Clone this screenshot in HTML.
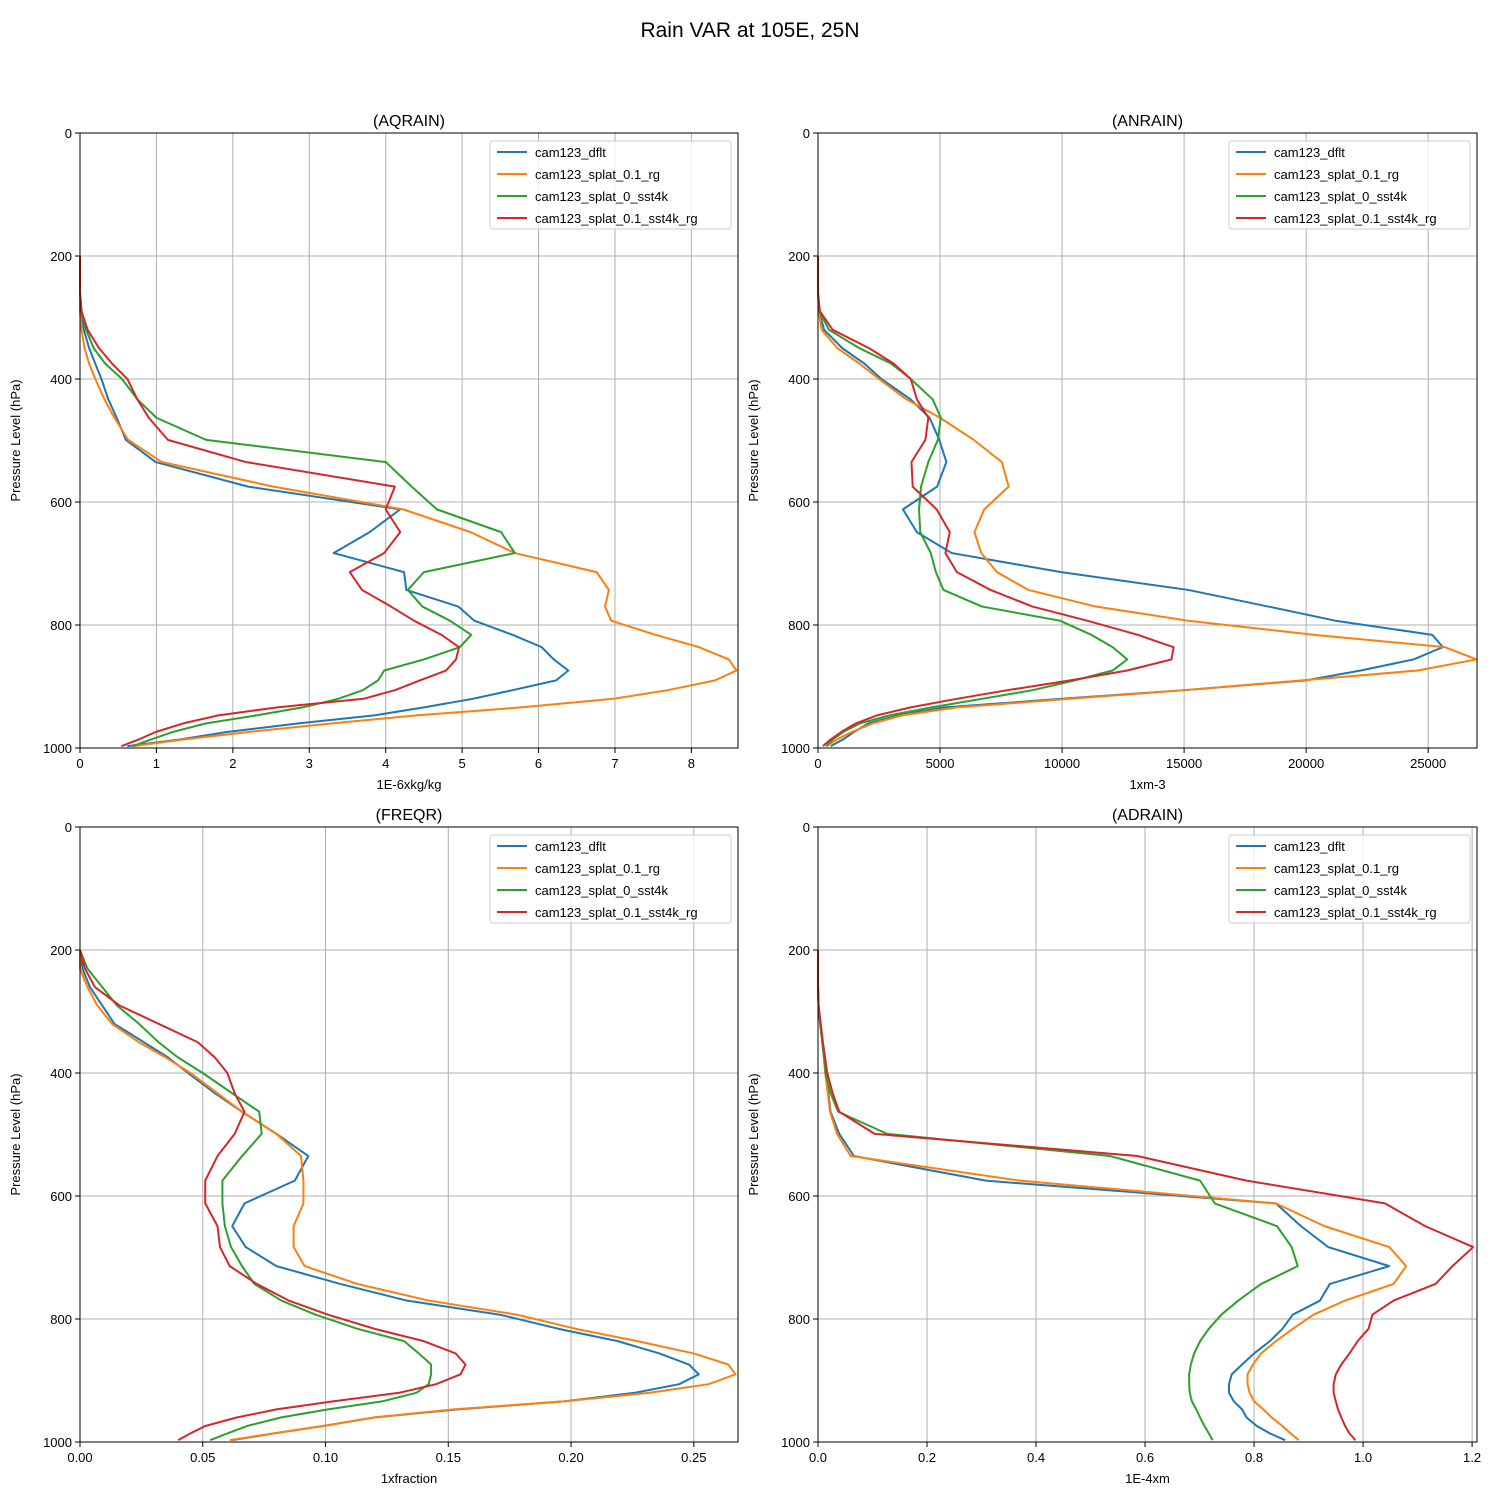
<!DOCTYPE html>
<html><head><meta charset="utf-8"><style>
body{margin:0;background:#fff}
svg{display:block;font-family:"Liberation Sans","DejaVu Sans",sans-serif}
</style></head><body>
<svg id="fig" width="1500" height="1500" viewBox="0 0 1500 1500">
<rect width="1500" height="1500" fill="#fff"/>
<text x="750" y="37" font-size="21" text-anchor="middle">Rain VAR at 105E, 25N</text>
</svg>
<script>
const levels=[200,230,260,290,320,350,375,400,433,463,499,535,575,612,649,683,714,743,770,793,816,836,856,874,890,906,920,934,947,960,974,986,997];
const seriesNames=["cam123_dflt","cam123_splat_0.1_rg","cam123_splat_0_sst4k","cam123_splat_0.1_sst4k_rg"];
const aqDflt=[0,0,0,0.02,0.05,0.12,0.2,0.28,0.37,0.48,0.6,0.99,2.2,4.19,3.79,3.32,4.24,4.27,4.95,5.16,5.66,6.04,6.2,6.39,6.23,5.66,5.14,4.5,3.85,2.86,1.92,1.32,0.62];
const aqRg=[0,0,0,0,0.02,0.06,0.12,0.2,0.32,0.45,0.63,1.07,2.53,4.23,5.11,5.69,6.76,6.92,6.87,6.95,7.53,8.1,8.49,8.59,8.31,7.69,6.98,5.77,4.4,3.3,2.2,1.37,0.69];
const aqSst=[0,0,0,0.02,0.08,0.18,0.33,0.55,0.75,1.0,1.65,4.0,4.34,4.67,5.51,5.69,4.5,4.29,4.48,4.84,5.12,4.97,4.5,3.98,3.9,3.7,3.38,2.91,2.31,1.65,1.21,0.93,0.69];
const aqSstRg=[0,0,0,0.02,0.1,0.25,0.42,0.62,0.75,0.9,1.15,2.17,4.12,4.0,4.19,3.98,3.53,3.69,4.07,4.37,4.73,4.96,4.92,4.79,4.45,4.12,3.71,2.58,1.81,1.35,0.99,0.77,0.54];
const anDflt=[0,0,0,50,250,1000,1900,2600,3790,4570,4970,5260,4880,3480,4050,5480,9960,15170,18450,21200,25170,25600,24400,22240,20000,15000,10000,5170,3280,2070,1470,1030,520];
const anRg=[0,0,0,30,150,800,1700,2500,3620,5000,6380,7530,7810,6810,6410,6690,7330,8620,11380,15170,20340,25690,26980,24570,19830,15000,10340,5690,3450,2240,1380,780,340];
const anSst=[0,0,0,60,450,1700,3000,3800,4700,5030,4910,4520,4220,4140,4190,4620,4830,5140,6720,9910,11200,12070,12670,12070,10520,8790,6720,4650,2930,1720,1030,600,340];
const anSstRg=[0,0,0,80,600,2100,3100,3800,4050,4520,4400,3830,3880,4860,5400,5220,5690,7070,8790,11030,13100,14570,14480,12670,10340,7760,5690,3790,2410,1550,950,520,200];
const frDflt=[0,0.001,0.004,0.009,0.014,0.026,0.036,0.044,0.055,0.066,0.080,0.093,0.0875,0.067,0.062,0.0675,0.080,0.106,0.133,0.171,0.195,0.219,0.236,0.248,0.252,0.244,0.226,0.197,0.154,0.12,0.099,0.079,0.062];
const frRg=[0,0,0.003,0.007,0.013,0.024,0.035,0.045,0.056,0.066,0.08,0.09,0.091,0.091,0.087,0.087,0.0915,0.113,0.142,0.178,0.202,0.227,0.25,0.264,0.267,0.256,0.232,0.197,0.152,0.12,0.099,0.079,0.061];
const frSst=[0,0.003,0.009,0.015,0.024,0.032,0.040,0.050,0.062,0.073,0.074,0.066,0.058,0.058,0.059,0.0615,0.066,0.071,0.082,0.096,0.113,0.132,0.138,0.143,0.143,0.142,0.137,0.123,0.101,0.082,0.068,0.06,0.053];
const frSstRg=[0,0.002,0.006,0.016,0.032,0.048,0.055,0.06,0.063,0.067,0.063,0.056,0.051,0.051,0.056,0.057,0.061,0.072,0.085,0.101,0.12,0.14,0.153,0.157,0.155,0.145,0.13,0.103,0.08,0.064,0.051,0.045,0.04];
const adDflt=[0,0,0,0.001,0.004,0.008,0.011,0.014,0.019,0.023,0.039,0.066,0.308,0.84,0.886,0.936,1.048,0.939,0.921,0.871,0.852,0.829,0.8,0.778,0.759,0.754,0.754,0.763,0.778,0.786,0.805,0.829,0.857];
const adRg=[0,0,0,0.001,0.004,0.008,0.011,0.013,0.018,0.022,0.035,0.06,0.37,0.84,0.929,1.048,1.079,1.056,0.967,0.909,0.871,0.84,0.813,0.798,0.788,0.788,0.792,0.8,0.817,0.832,0.852,0.867,0.882];
const adSst=[0,0,0,0.001,0.004,0.008,0.011,0.014,0.023,0.037,0.127,0.536,0.701,0.728,0.842,0.869,0.88,0.813,0.771,0.74,0.717,0.701,0.69,0.684,0.681,0.681,0.682,0.686,0.694,0.701,0.709,0.717,0.724];
const adSstRg=[0,0,0,0.001,0.005,0.009,0.013,0.017,0.027,0.039,0.104,0.586,0.786,1.04,1.114,1.202,1.164,1.133,1.056,1.017,1.01,0.99,0.975,0.96,0.95,0.946,0.946,0.95,0.954,0.96,0.967,0.975,0.986];
const yTicks=[0,200,400,600,800,1000];
const aqTicks=[0,1,2,3,4,5,6,7,8];
const anTicks=[0,5000,10000,15000,20000,25000];
const frTicks=[0,0.05,0.10,0.15,0.20,0.25];
const frTickLabels=["0.00","0.05","0.10","0.15","0.20","0.25"];
const adTicks=[0,0.2,0.4,0.6,0.8,1.0,1.2];
const adTickLabels=["0.0","0.2","0.4","0.6","0.8","1.0","1.2"];

const colors=["#1f77b4","#ff7f0e","#2ca02c","#d62728"];
const NS="http://www.w3.org/2000/svg";
const svg=document.getElementById('fig');
function mk(tag,attrs,parent){const e=document.createElementNS(NS,tag);for(const k in attrs)e.setAttribute(k,attrs[k]);(parent||svg).appendChild(e);return e;}

const panels=[
 {key:"aqrain",title:"(AQRAIN)",box:[80,133,738,748],xmax:8.61,ticks:aqTicks,labels:aqTicks.map(String),xlabel:"1E-6xkg/kg",series:[aqDflt,aqRg,aqSst,aqSstRg]},
 {key:"anrain",title:"(ANRAIN)",box:[818,133,1477,748],xmax:27000,ticks:anTicks,labels:anTicks.map(String),xlabel:"1xm-3",series:[anDflt,anRg,anSst,anSstRg]},
 {key:"freqr",title:"(FREQR)",box:[80,827,738,1442],xmax:0.268,ticks:frTicks,labels:frTickLabels,xlabel:"1xfraction",series:[frDflt,frRg,frSst,frSstRg]},
 {key:"adrain",title:"(ADRAIN)",box:[818,827,1477,1442],xmax:1.209,ticks:adTicks,labels:adTickLabels,xlabel:"1E-4xm",series:[adDflt,adRg,adSst,adSstRg]}
];

panels.forEach(p=>{
 const [x0,y0,x1,y1]=p.box;
 const g=mk('g',{});
 
 
 const xs=v=>x0+(v/p.xmax)*(x1-x0);
 const ys=v=>y0+(v/1000)*(y1-y0);
 // grid
 p.ticks.forEach((t,i)=>{
  const X=xs(t);
  const gl=mk('line',{x1:X,y1:y0,x2:X,y2:y1,stroke:'#b0b0b0','stroke-width':1},g);
  
  
  mk('line',{x1:X,y1:y1,x2:X,y2:y1+5,stroke:'#000','stroke-width':1},g);
  const tl=mk('text',{x:X,y:y1+20,'font-size':13,'text-anchor':'middle'},g);
  tl.textContent=p.labels[i];
  
  
 });
 yTicks.forEach(t=>{
  const Y=ys(t);
  const gl=mk('line',{x1:x0,y1:Y,x2:x1,y2:Y,stroke:'#b0b0b0','stroke-width':1},g);
  
  
  mk('line',{x1:x0-5,y1:Y,x2:x0,y2:Y,stroke:'#000','stroke-width':1},g);
  const tl=mk('text',{x:x0-8,y:Y+5,'font-size':13,'text-anchor':'end'},g);
  tl.textContent=String(t);
  
  
 });
 // series
 p.series.forEach((vals,si)=>{
  const n=Math.min(vals.length,levels.length);
  let d='';
  for(let i=0;i<n;i++){d+=(i?'L':'M')+xs(vals[i]).toFixed(2)+','+ys(levels[i]).toFixed(2);}
  const path=mk('path',{d:d,fill:'none',stroke:colors[si],'stroke-width':2,'stroke-linejoin':'round'},g);
  
  
 });
 // frame
 const fr=mk('rect',{x:x0,y:y0,width:x1-x0,height:y1-y0,fill:'none',stroke:'#000','stroke-width':1},g);
 
 
 // titles
 const tt=mk('text',{x:(x0+x1)/2,y:y0-7,'font-size':16,'text-anchor':'middle'},g);
 tt.textContent=p.title;
 
 
 const xl=mk('text',{x:(x0+x1)/2,y:y1+41,'font-size':13,'text-anchor':'middle'},g);
 xl.textContent=p.xlabel;
 
 
 const ylx=x0-60, yly=(y0+y1)/2;
 const yl=mk('text',{x:ylx,y:yly,'font-size':13,'text-anchor':'middle',transform:`rotate(-90 ${ylx} ${yly})`},g);
 yl.textContent='Pressure Level (hPa)';
 
 
 // legend
 const lx=x1-248, ly=y0+8;
 const lg=mk('g',{},g);
 
 
 mk('rect',{x:lx,y:ly,width:241,height:88,rx:3,fill:'#fff','fill-opacity':0.8,stroke:'#ccc','stroke-width':1},lg);
 seriesNames.forEach((nm,si)=>{
  const ey=ly+11+si*22;
  const le=mk('g',{},lg);
  
  
  mk('line',{x1:lx+7,y1:ey,x2:lx+37,y2:ey,stroke:colors[si],'stroke-width':2},le);
  const t=mk('text',{x:lx+45,y:ey+5,'font-size':13},le);
  t.textContent=nm;
 });
});
</script>
</body></html>
